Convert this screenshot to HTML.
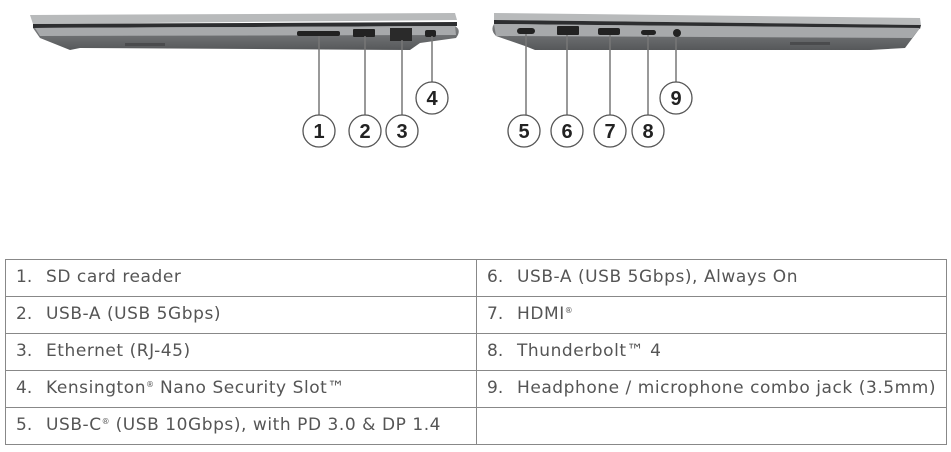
<!DOCTYPE html>
<html><head><meta charset="utf-8"><style>
body{margin:0;width:951px;height:452px;background:#fff;position:relative;overflow:hidden;font-family:"DejaVu Sans",sans-serif;}
svg{position:absolute;left:0;top:0}
.c{position:absolute;font-size:17px;color:#555;white-space:nowrap;letter-spacing:0.55px;font-family:"DejaVu Sans",sans-serif}
.n{position:absolute;font-size:17px;color:#555;font-family:"DejaVu Sans",sans-serif}
sup{font-size:8px;vertical-align:6px;letter-spacing:0}
</style></head><body>
<svg width="951" height="452">
<defs>
<linearGradient id="base" x1="0" y1="0" x2="0" y2="1"><stop offset="0" stop-color="#7e8082"/><stop offset="1" stop-color="#56585a"/></linearGradient>
</defs>
<path d="M30 15 L455 13 L457 20 L33 24 Z" fill="#b8babb"/>
<path d="M33 24 L457 22 L457 26 L33 28 Z" fill="#2d2e30"/>
<path d="M33 28 L455 26 Q462 30 456 38 L420 43 L410 50 L80 48 L70 50 L40 38 Z" fill="url(#base)"/>
<path d="M35 28 L455 26 L456 35 L40 36 Z" fill="#a7a9ab"/>
<rect x="297" y="31" width="43" height="5" rx="2" fill="#222"/>
<rect x="353" y="29" width="22" height="8" rx="1" fill="#222"/>
<rect x="390" y="28" width="22" height="13" fill="#2a2a2a"/>
<rect x="425" y="30" width="11" height="7" rx="2" fill="#222"/>
<rect x="125" y="43" width="40" height="3" fill="#4a4b4d"/>
<path d="M494 13 L920 18 L921 25 L494 20 Z" fill="#b8babb"/>
<path d="M494 20 L921 25 L920 29 L494 24 Z" fill="#2d2e30"/>
<path d="M494 24 L920 28 L905 48 L870 50 L535 50 L525 46 L496 36 Q490 30 494 24 Z" fill="url(#base)"/>
<path d="M494 24 L920 28 L912 38 L496 36 Z" fill="#a7a9ab"/>
<rect x="517" y="28" width="18" height="6" rx="3" fill="#222"/>
<rect x="557" y="26" width="22" height="9" rx="1" fill="#222"/>
<rect x="598" y="28" width="22" height="7" rx="2" fill="#222"/>
<rect x="641" y="30" width="15" height="5" rx="2.5" fill="#222"/>
<circle cx="677" cy="33" r="4" fill="#222"/>
<rect x="790" y="42" width="40" height="3" fill="#4a4b4d"/>
<g stroke="#777" stroke-width="1.5" fill="none">
<line x1="319" y1="36" x2="319" y2="115"/>
<line x1="365" y1="36" x2="365" y2="115"/>
<line x1="402" y1="40" x2="402" y2="115"/>
<line x1="432" y1="36" x2="432" y2="82"/>
<line x1="526" y1="34" x2="526" y2="115"/>
<line x1="567" y1="35" x2="567" y2="115"/>
<line x1="610" y1="35" x2="610" y2="115"/>
<line x1="648" y1="35" x2="648" y2="115"/>
<line x1="676" y1="37" x2="676" y2="82"/>
</g>
<g stroke="#555" stroke-width="1.3" fill="#fff">
<circle cx="319" cy="131" r="16"/><circle cx="365" cy="131" r="16"/><circle cx="402" cy="131" r="16"/><circle cx="432" cy="98" r="16"/>
<circle cx="524" cy="131" r="16"/><circle cx="567" cy="131" r="16"/><circle cx="610" cy="131" r="16"/><circle cx="648" cy="131" r="16"/><circle cx="676" cy="98" r="16"/>
</g>
<g font-family="Liberation Sans" font-weight="bold" font-size="20" fill="#222" text-anchor="middle">
<text x="319" y="138">1</text><text x="365" y="138">2</text><text x="402" y="138">3</text><text x="432" y="105">4</text>
<text x="524" y="138">5</text><text x="567" y="138">6</text><text x="610" y="138">7</text><text x="648" y="138">8</text><text x="676" y="105">9</text>
</g>
<g stroke="#888" stroke-width="1" fill="none">
<rect x="5.5" y="259.5" width="941" height="185"/>
<line x1="476.5" y1="259" x2="476.5" y2="445"/>
<line x1="5" y1="296.5" x2="947" y2="296.5"/>
<line x1="5" y1="333.5" x2="947" y2="333.5"/>
<line x1="5" y1="370.5" x2="947" y2="370.5"/>
<line x1="5" y1="407.5" x2="947" y2="407.5"/>
</g>
</svg>
<div class="n" style="left:16px;top:267px">1.</div><div class="c" style="left:46px;top:267px">SD card reader</div>
<div class="n" style="left:16px;top:304px">2.</div><div class="c" style="left:46px;top:304px">USB-A (USB 5Gbps)</div>
<div class="n" style="left:16px;top:341px">3.</div><div class="c" style="left:46px;top:341px">Ethernet (RJ-45)</div>
<div class="n" style="left:16px;top:378px">4.</div><div class="c" style="left:46px;top:378px">Kensington<sup>®</sup> Nano Security Slot™</div>
<div class="n" style="left:16px;top:415px">5.</div><div class="c" style="left:46px;top:415px">USB-C<sup>®</sup> (USB 10Gbps), with PD 3.0 &amp; DP 1.4</div>
<div class="n" style="left:487px;top:267px">6.</div><div class="c" style="left:517px;top:267px">USB-A (USB 5Gbps), Always On</div>
<div class="n" style="left:487px;top:304px">7.</div><div class="c" style="left:517px;top:304px">HDMI<sup>®</sup></div>
<div class="n" style="left:487px;top:341px">8.</div><div class="c" style="left:517px;top:341px">Thunderbolt™ 4</div>
<div class="n" style="left:487px;top:378px">9.</div><div class="c" style="left:517px;top:378px">Headphone / microphone combo jack (3.5mm)</div>
</body></html>
